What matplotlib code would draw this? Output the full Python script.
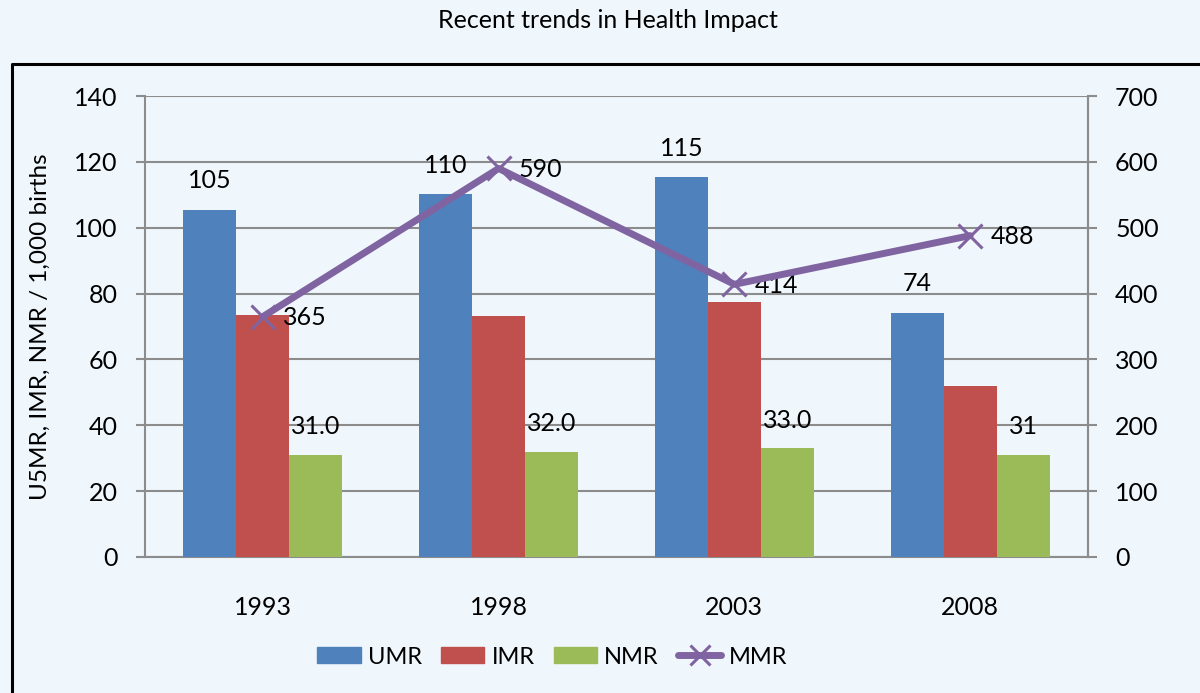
import matplotlib
matplotlib.use("Agg")
import matplotlib.pyplot as plt
import numpy as np
from matplotlib.lines import Line2D
from matplotlib.patches import Patch

plt.rcParams['font.family'] = ['Lato', 'DejaVu Sans']

years = ['1993', '1998', '2003', '2008']
umr = [105.4, 110.2, 115.4, 74.1]
imr = [73.4, 73.2, 77.4, 52.0]
nmr = [31.0, 32.0, 33.0, 31.0]
mmr = [365, 590, 414, 488]
umr_labels = ['105', '110', '115', '74']
nmr_labels = ['31.0', '32.0', '33.0', '31']
mmr_labels = ['365', '590', '414', '488']

c_umr = '#4F81BD'
c_imr = '#C0504D'
c_nmr = '#9BBB59'
c_mmr = '#8064A2'
grid_c = '#8C8C8C'
bg = '#F0F7FC'

fig = plt.figure(figsize=(12, 6.93), dpi=100, facecolor=bg)
ax = fig.add_axes([145/1200, 1-557/693, (1088-145)/1200, (557-96)/693])
ax.set_facecolor('none')

x = np.arange(len(years))
w = 0.225
ax.bar(x - w, umr, w, color=c_umr, zorder=3)
ax.bar(x, imr, w, color=c_imr, zorder=3)
ax.bar(x + w, nmr, w, color=c_nmr, zorder=3)

ax.set_xlim(-0.5, 3.5)
ax.set_ylim(0, 140)
ax.set_yticks(np.arange(0, 141, 20))
ax.yaxis.grid(True, color=grid_c, lw=1.5, zorder=0)
ax.set_axisbelow(True)
ax.set_xticks(x)
ax.set_xticklabels(years)
ax.tick_params(axis='x', length=0, pad=28, labelsize=18)
ax.tick_params(axis='y', length=6.5, width=1.5, color=grid_c, pad=13, labelsize=18)
ax.spines['top'].set_visible(False)
for s in ['left', 'right', 'bottom']:
    ax.spines[s].set_color(grid_c)
    ax.spines[s].set_linewidth(1.5)
ax.set_ylabel('U5MR, IMR, NMR / 1,000 births', fontsize=17.5)
ax.yaxis.set_label_coords(-0.1, 0.5)

for xi, v, lab in zip(x, umr, umr_labels):
    ax.annotate(lab, (xi - w, v), xytext=(0, 29), textcoords='offset pixels',
                ha='center', va='center', fontsize=18)
for xi, v, lab in zip(x, nmr, nmr_labels):
    ax.annotate(lab, (xi + w, v), xytext=(0, 28), textcoords='offset pixels',
                ha='center', va='center', fontsize=18)

ax2 = ax.twinx()
ax2.set_ylim(0, 700)
ax2.set_yticks(np.arange(0, 701, 100))
ax2.plot(x, mmr, color=c_mmr, lw=5, marker='x', ms=17, mew=2.2, zorder=5,
         solid_capstyle='round')
for xi, v, lab in zip(x, mmr, mmr_labels):
    ax2.annotate(lab, (xi, v), xytext=(42, -1), textcoords='offset pixels',
                 ha='center', va='center', fontsize=18)
ax2.tick_params(axis='y', length=6.5, width=1.5, color=grid_c, pad=13, labelsize=18)
for s in ['top', 'left', 'bottom']:
    ax2.spines[s].set_visible(False)
ax2.spines['right'].set_color(grid_c)
ax2.spines['right'].set_linewidth(1.5)

fig.text(608/1200, 1-21/693, 'Recent trends in Health Impact', ha='center', va='center', fontsize=18)

# frame box (left and top edges)
fig.add_artist(Line2D([12/1200, 12/1200, 1.0], [0.0, 1-64/693, 1-64/693],
                      transform=fig.transFigure, color='black', lw=2.2))

handles = [Patch(color=c_umr), Patch(color=c_imr), Patch(color=c_nmr),
           Line2D([], [], color=c_mmr, lw=5, marker='x', ms=14, mew=2.2, solid_capstyle='round')]
fig.legend(handles, ['UMR', 'IMR', 'NMR', 'MMR'], loc='center', bbox_to_anchor=(552/1200, 1-657/693),
           ncol=4, frameon=False, fontsize=17, handlelength=1.85, handleheight=0.65,
           handletextpad=0.3, columnspacing=0.8)

fig.savefig('out.png', dpi=100, facecolor=bg)
